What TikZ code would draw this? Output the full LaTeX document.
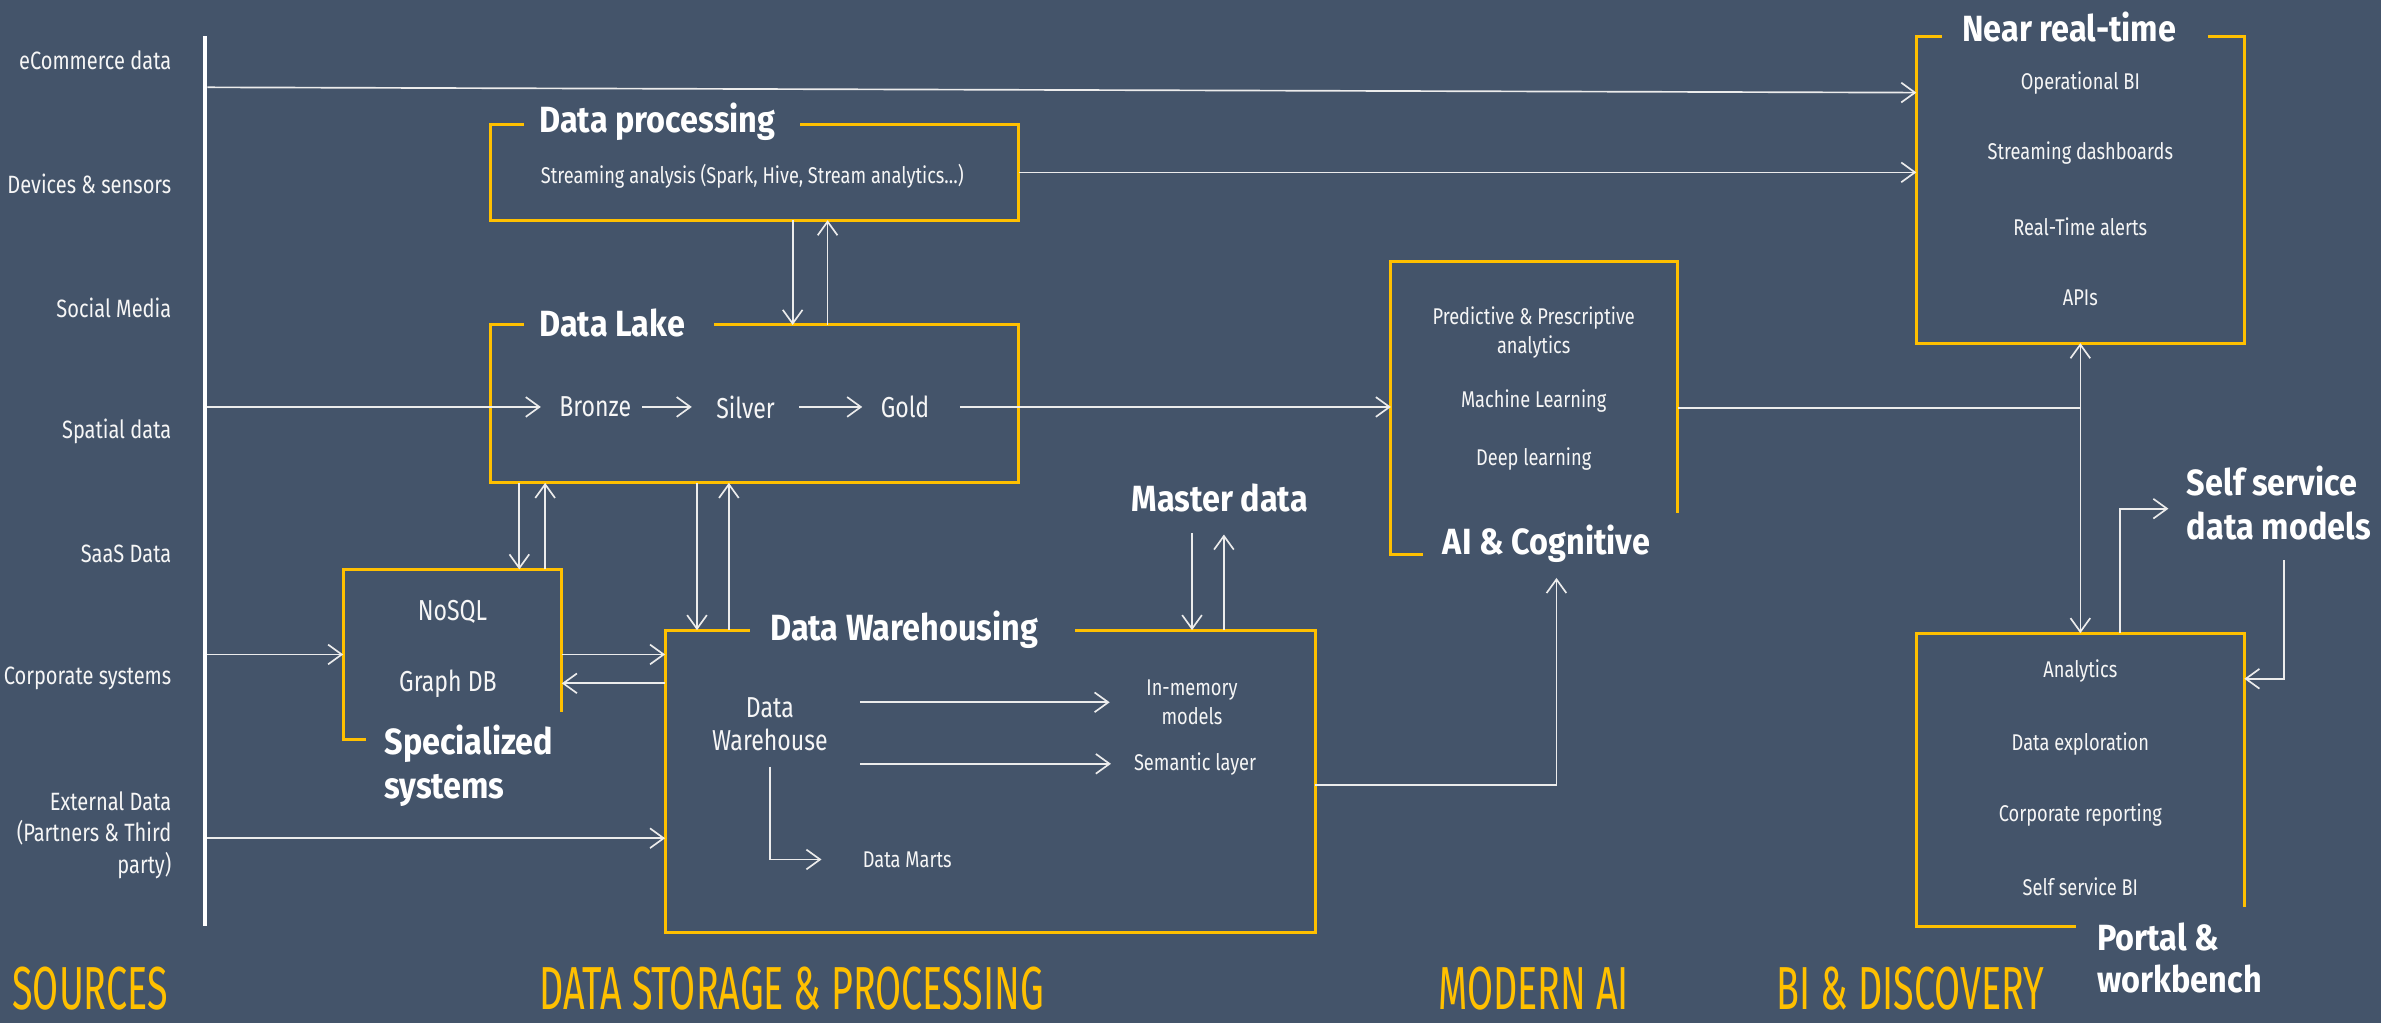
\documentclass[tikz,border=0pt]{standalone}
\usepackage{fontspec}
\usetikzlibrary{arrows.meta,calc}
\newfontfamily\lightf{Fira Sans}[FakeStretch=0.8]
\newfontfamily\boldf{Fira Sans}[FakeStretch=0.89]
\newfontfamily\catf{Fira Sans}[FakeStretch=0.62]
\definecolor{slate}{RGB}{68,84,106}
\definecolor{amber}{RGB}{255,192,0}
\definecolor{wire}{RGB}{236,236,236}
\definecolor{ink}{RGB}{246,246,246}
\tikzset{
  zone/.style={draw=none,inner sep=0,outer sep=0},
  ybox/.style={draw=amber,line width=2pt},
  wireline/.style={draw=wire,line width=1.1pt},
  flow/.style={wireline,-{Straight Barb[length=9pt,width=13pt,line width=1.1pt]}},
  twoway/.style={wireline,{Straight Barb[length=9pt,width=13pt,line width=1.1pt]}-{Straight Barb[length=9pt,width=13pt,line width=1.1pt]}},
  srclabel/.style={anchor=east,inner sep=0,text=ink,align=right,font=\lightf\fontsize{16.5}{21}\selectfont},
  item/.style={inner sep=0,text=ink,align=center,font=\lightf\fontsize{15}{19.5}\selectfont},
  bigitem/.style={inner sep=0,text=ink,align=center,font=\lightf\fontsize{19}{22}\selectfont},
  heading/.style={anchor=west,inner sep=0,text=white,align=left,font=\boldf\bfseries\fontsize{24}{29}\selectfont},
  category/.style={anchor=base west,inner sep=0,text=amber,font=\catf\fontsize{40}{44}\selectfont},
}
\begin{document}
\begin{tikzpicture}[x=1pt,y=-1pt]
\useasboundingbox (0,0) rectangle (1568,674);
\fill[slate] (0,0) rectangle (1568,674);

% ---------- sources ----------
\node[zone,fill=white,minimum width=3pt,minimum height=586pt] (bar) at (135,317) {};
\node[srclabel] (src1) at (113,40) {eCommerce data};
\node[srclabel] (src2) at (113,121) {Devices \& sensors};
\node[srclabel] (src3) at (113,203) {Social Media};
\node[srclabel] (src4) at (113,284) {Spatial data};
\node[srclabel] (src5) at (113,365) {SaaS Data};
\node[srclabel] (src6) at (113,447) {Corporate systems};
\node[srclabel] (src7) at (113,550) {External Data\\(Partners \& Third\\party)};
\coordinate (tap1) at (136.5,57.5);
\coordinate (tap4) at (136.5,268);
\coordinate (tap6) at (136.5,431);
\coordinate (tap7) at (136.5,552);

% ---------- box areas ----------
\node[zone,minimum width=348pt,minimum height=63pt] (dp) at (497,113.5) {};
\node[zone,minimum width=348pt,minimum height=104pt] (lake) at (497,266) {};
\node[zone,minimum width=144pt,minimum height=112pt] (spec) at (298,431) {};
\node[zone,minimum width=428pt,minimum height=199pt] (dw) at (652,514.5) {};
\node[zone,minimum width=189pt,minimum height=193pt] (ai) at (1010.5,268.5) {};
\node[zone,minimum width=216pt,minimum height=202pt] (nrt) at (1370,125) {};
\node[zone,minimum width=216pt,minimum height=193pt] (portal) at (1370,513.5) {};

% ---------- yellow outlines ----------
\draw[ybox] ($(dp.north west)+(22,0)$) -- (dp.north west) -- (dp.south west) -- (dp.south east) -- (dp.north east) -- ($(dp.north east)+(-144,0)$);
\draw[ybox] ($(lake.north west)+(22,0)$) -- (lake.north west) -- (lake.south west) -- (lake.south east) -- (lake.north east) -- ($(lake.north east)+(-201,0)$);
\draw[ybox] ($(spec.south west)+(15,0)$) -- (spec.south west) -- (spec.north west) -- (spec.north east) -- ($(spec.north east)+(0,94)$);
\draw[ybox] ($(dw.north west)+(56,0)$) -- (dw.north west) -- (dw.south west) -- (dw.south east) -- (dw.north east) -- ($(dw.north east)+(-158,0)$);
\draw[ybox] ($(ai.south west)+(21,0)$) -- (ai.south west) -- (ai.north west) -- (ai.north east) -- ($(ai.north east)+(0,166)$);
\draw[ybox] ($(nrt.north west)+(17,0)$) -- (nrt.north west) -- (nrt.south west) -- (nrt.south east) -- (nrt.north east) -- ($(nrt.north east)+(-24,0)$);
\draw[ybox] ($(portal.south west)+(105,0)$) -- (portal.south west) -- (portal.north west) -- (portal.north east) -- ($(portal.north east)+(0,180)$);

% ---------- headings ----------
\node[heading] (dptitle) at (355,80) {Data processing};
\node[heading] (laketitle) at (355,213) {Data Lake};
\node[heading] (spectitle) at (253,504.5) {Specialized\\systems};
\node[heading] (dwtitle) at (507,415) {Data Warehousing};
\node[heading] (master) at (745,328) {Master data};
\node[heading] (aititle) at (950,358) {AI \& Cognitive};
\node[heading] (nrttitle) at (1292,17.6) {Near real-time};
\node[heading] (ssm) at (1440,331.5) {Self service\\data models};
\node[heading,font=\boldf\bfseries\fontsize{24}{28}\selectfont] (portaltitle) at (1381,631) {Portal \&\\workbench};

% ---------- box contents ----------
\node[item,anchor=west] (stream) at (356,116) {Streaming analysis (Spark, Hive, Stream analytics…)};
\node[bigitem] (bronze) at (392,268) {Bronze};
\node[bigitem] (silver) at (491,268) {Silver};
\node[bigitem] (gold) at (596,268) {Gold};
\node[bigitem] (nosql) at (298,403) {NoSQL};
\node[bigitem] (graphdb) at (295,450) {Graph DB};
\node[bigitem] (dwtext) at (507,477) {Data\\Warehouse};
\node[item,font=\lightf\fontsize{15}{19}\selectfont] (inmem) at (785,462.5) {In-memory\\models};
\node[item] (sem) at (787,503) {Semantic layer};
\node[item,anchor=west] (marts) at (568,566) {Data Marts};
\node[item] (pred) at (1010,219) {Predictive \& Prescriptive\\analytics};
\node[item] (ml) at (1010,264) {Machine Learning};
\node[item] (dl) at (1010,302) {Deep learning};
\node[item] (opbi) at (1370,55) {Operational BI};
\node[item] (dash) at (1370,101) {Streaming dashboards};
\node[item] (alerts) at (1370,149) {Real-Time alerts};
\node[item] (apis) at (1370,196) {APIs};
\node[item] (analytics) at (1370,442) {Analytics};
\node[item] (explore) at (1370,490) {Data exploration};
\node[item] (corprep) at (1370,537) {Corporate reporting};
\node[item] (ssbi) at (1370,584) {Self service BI};

% ---------- categories ----------
\node[category] (catsrc) at (8,665) {SOURCES};
\node[category] (catstore) at (355,665) {DATA STORAGE \& PROCESSING};
\node[category] (catai) at (947,665) {MODERN AI};
\node[category] (catbi) at (1170,665) {BI \& DISCOVERY};

% ---------- connectors ----------
\draw[flow] (tap1) -- ($(nrt.north west)+(0,37)$);
\draw[flow] (dp.east) -- (dp.east -| nrt.west);
\draw[flow,shorten >=12pt] (tap4) -- (bronze.west);
\draw[flow,shorten <=7pt,shorten >=16pt] (bronze.east) -- (silver.west);
\draw[flow,shorten <=16pt,shorten >=12pt] (silver.east) -- (gold.west);
\draw[flow,shorten <=20pt] (gold.east) -- (ai.west |- gold.east);
\draw[flow] (tap6) -- (spec.west);
\draw[flow] (spec.east) -- (spec.east -| dw.west);
\draw[flow] (dw.west |- graphdb.east) -- (spec.east |- graphdb.east);
\draw[flow] (tap7) -- (dw.west |- tap7);

% processing <-> lake
\draw[flow] ($(dp.south)+(25,0)$) -- ($(lake.north)+(25,0)$);
\draw[flow] ($(lake.north)+(48,0)$) -- ($(dp.south)+(48,0)$);
% lake <-> specialized systems
\draw[flow] ($(lake.south west)+(19,0)$) -- +(0,57);
\draw[flow] ($(spec.north west)+(133,0)$) -- +(0,-57);
% lake <-> warehousing
\draw[flow] ($(lake.south west)+(136,0)$) -- +(0,97);
\draw[flow] ($(dw.north west)+(42,0)$) -- +(0,-97);
% master data <-> warehousing
\draw[flow] ($(dw.north west)+(347,-64)$) -- +(0,64);
\draw[flow] ($(dw.north west)+(368,0)$) -- +(0,-63);

% inside the warehouse
\draw[flow,shorten <=21pt,shorten >=24pt] (dwtext.east |- inmem.west) -- (inmem.west);
\draw[flow,shorten <=21pt,shorten >=15pt] (dwtext.east |- sem.west) -- (sem.west);
\draw[flow,shorten <=10pt,shorten >=27pt] (dwtext.south) |- (marts.west);

% warehouse -> AI
\draw[flow] ($(dw.east)+(0,2.5)$) -| ($(aititle.south west)+(75,10)$);
% AI -> BI
\draw[wireline] (ai.east) -- (ai.east -| nrt.south);
\draw[twoway] (nrt.south) -- (portal.north);
% portal <-> self service data models
\draw[flow] ($(portal.north west)+(134,0)$) |- ($(portal.north west)+(166,-82)$);
\draw[flow] ($(portal.north east)+(26,-48)$) |- ($(portal.north east)+(0,30)$);
\end{tikzpicture}
\end{document}
